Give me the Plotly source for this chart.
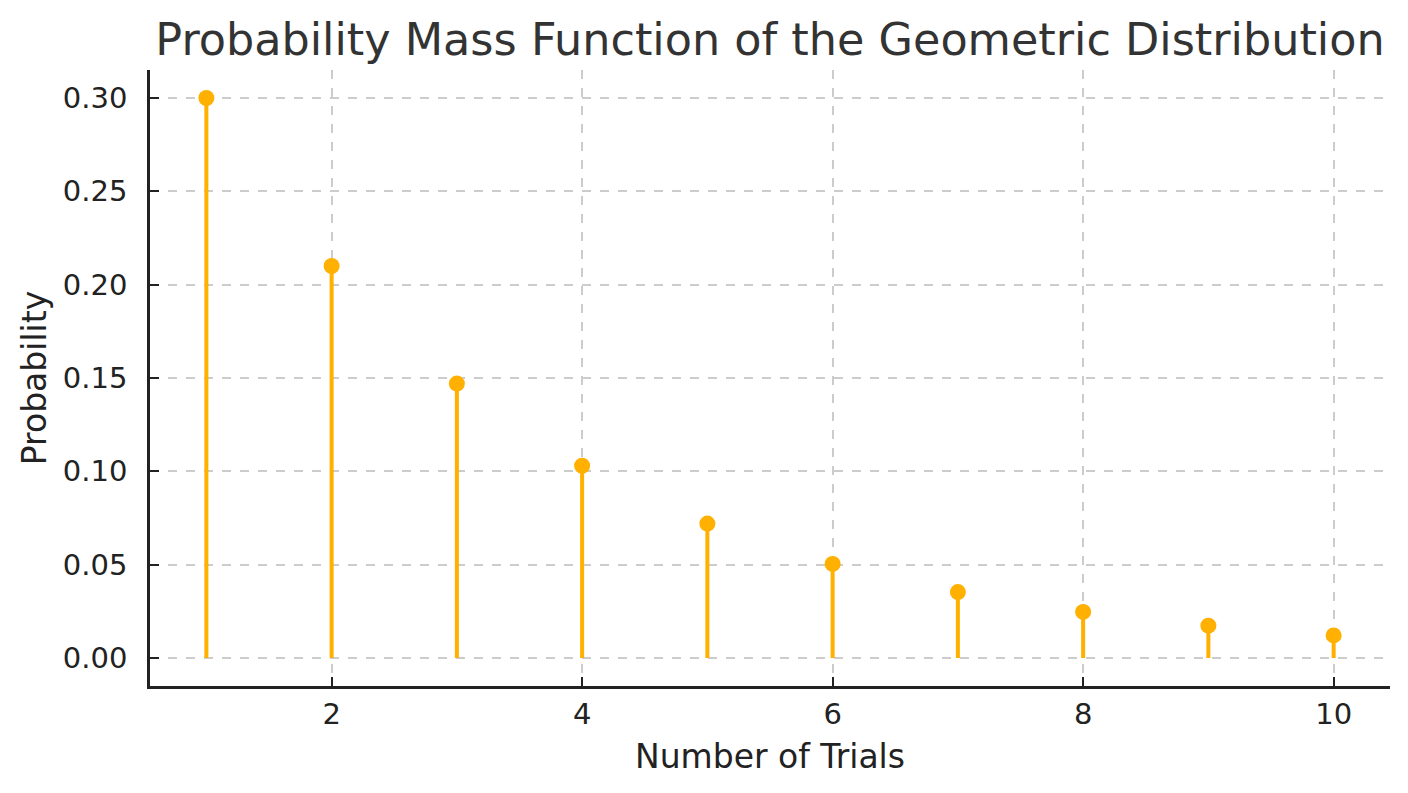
import plotly.graph_objects as go

trials = [1, 2, 3, 4, 5, 6, 7, 8, 9, 10]
probability = [0.300, 0.210, 0.147, 0.103, 0.072, 0.0504, 0.0353, 0.0247, 0.0173, 0.0121]
x_ticks = [2, 4, 6, 8, 10]
y_ticks = [0.00, 0.05, 0.10, 0.15, 0.20, 0.25, 0.30]
y_tick_labels = ["0.00", "0.05", "0.10", "0.15", "0.20", "0.25", "0.30"]

color = "#FFB000"
font = "DejaVu Sans"

stem_x, stem_y = [], []
for xv, yv in zip(trials, probability):
    stem_x += [xv, xv, None]
    stem_y += [0, yv, None]

fig = go.Figure()
fig.add_trace(go.Scatter(x=stem_x, y=stem_y, mode="lines",
                         line=dict(color=color, width=4), hoverinfo="skip",
                         showlegend=False))
fig.add_trace(go.Scatter(x=trials, y=probability, mode="markers",
                         marker=dict(color=color, size=16, line=dict(width=0)),
                         showlegend=False))

W, H = 1392, 777
fig.update_layout(
    width=W, height=H,
    margin=dict(l=142, r=10, t=62, b=99),
    paper_bgcolor="white", plot_bgcolor="white",
    font=dict(family=font, color="#222222", size=29),
    title=dict(text="Probability Mass Function of the Geometric Distribution",
               x=0.5, xref="paper", xanchor="center",
               y=1 - 31 / H, yref="container", yanchor="middle",
               font=dict(size=44.5, color="#333333", family=font)),
)
fig.update_xaxes(
    range=[0.55, 10.45], tickvals=x_ticks, ticktext=[str(v) for v in x_ticks],
    showline=True, linecolor="#222222", linewidth=2.5, mirror=False,
    ticks="inside", ticklen=9, tickwidth=2, tickcolor="#222222",
    showgrid=True, gridcolor="#cccccc", gridwidth=1.5, griddash="dash",
    zeroline=False, ticklabelstandoff=0,
    title=dict(text="Number of Trials", font=dict(size=33), standoff=16),
    tickfont=dict(size=29),
)
fig.update_yaxes(
    range=[-0.015, 0.315], tickvals=y_ticks, ticktext=y_tick_labels,
    showline=True, linecolor="#222222", linewidth=2.5, mirror=False,
    ticks="inside", ticklen=9, tickwidth=2, tickcolor="#222222",
    showgrid=True, gridcolor="#cccccc", gridwidth=1.5, griddash="dash",
    zeroline=False, ticklabelstandoff=14,
    title=dict(text="Probability", font=dict(size=33), standoff=7),
    tickfont=dict(size=29),
)

fig.write_html("out.html")
